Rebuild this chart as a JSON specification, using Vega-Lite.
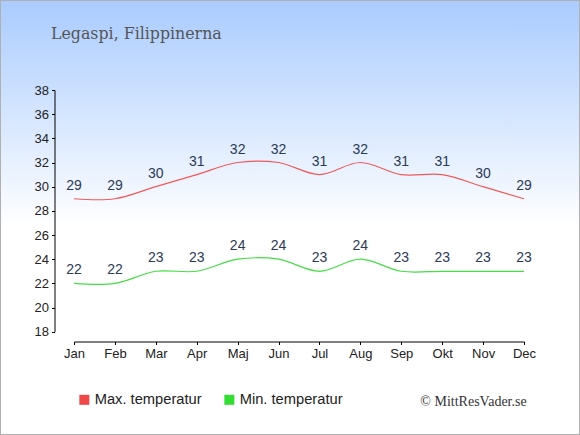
{
  "$schema": "https://vega.github.io/schema/vega-lite/v6.json",
  "width": 580,
  "height": 435,
  "autosize": "none",
  "padding": 0,
  "background": "white",
  "view": {
    "fill": {
      "gradient": "linear",
      "x1": 0, "y1": 0, "x2": 0, "y2": 1,
      "stops": [
        {"offset": 0, "color": "#a9cbff"},
        {"offset": 0.52, "color": "#ffffff"},
        {"offset": 1, "color": "#ffffff"}
      ]
    },
    "stroke": "#b0b0b0",
    "strokeWidth": 2
  },
  "title": {
    "text": "Legaspi, Filippinerna",
    "anchor": "start",
    "frame": "group",
    "orient": "top",
    "offset": -54.3,
    "dx": 51,
    "baseline": "alphabetic",
    "font": "DejaVu Serif",
    "fontSize": 15.8,
    "fontWeight": "normal",
    "color": "#555555"
  },
  "data": {
    "values": [
      {"month": "Jan", "series": "Max. temperatur", "temp": 29},
      {"month": "Feb", "series": "Max. temperatur", "temp": 29},
      {"month": "Mar", "series": "Max. temperatur", "temp": 30},
      {"month": "Apr", "series": "Max. temperatur", "temp": 31},
      {"month": "Maj", "series": "Max. temperatur", "temp": 32},
      {"month": "Jun", "series": "Max. temperatur", "temp": 32},
      {"month": "Jul", "series": "Max. temperatur", "temp": 31},
      {"month": "Aug", "series": "Max. temperatur", "temp": 32},
      {"month": "Sep", "series": "Max. temperatur", "temp": 31},
      {"month": "Okt", "series": "Max. temperatur", "temp": 31},
      {"month": "Nov", "series": "Max. temperatur", "temp": 30},
      {"month": "Dec", "series": "Max. temperatur", "temp": 29},
      {"month": "Jan", "series": "Min. temperatur", "temp": 22},
      {"month": "Feb", "series": "Min. temperatur", "temp": 22},
      {"month": "Mar", "series": "Min. temperatur", "temp": 23},
      {"month": "Apr", "series": "Min. temperatur", "temp": 23},
      {"month": "Maj", "series": "Min. temperatur", "temp": 24},
      {"month": "Jun", "series": "Min. temperatur", "temp": 24},
      {"month": "Jul", "series": "Min. temperatur", "temp": 23},
      {"month": "Aug", "series": "Min. temperatur", "temp": 24},
      {"month": "Sep", "series": "Min. temperatur", "temp": 23},
      {"month": "Okt", "series": "Min. temperatur", "temp": 23},
      {"month": "Nov", "series": "Min. temperatur", "temp": 23},
      {"month": "Dec", "series": "Min. temperatur", "temp": 23}
    ]
  },
  "encoding": {
    "x": {
      "field": "month",
      "type": "ordinal",
      "sort": ["Jan", "Feb", "Mar", "Apr", "Maj", "Jun", "Jul", "Aug", "Sep", "Okt", "Nov", "Dec"],
      "scale": {"type": "point", "range": [74, 524], "padding": 0},
      "axis": {
        "orient": "bottom",
        "offset": -93.5,
        "labelAngle": 0,
        "tickSize": 3,
        "labelPadding": 3,
        "labelFont": "Liberation Sans",
        "labelFontSize": 13,
        "labelColor": "#222222",
        "domainColor": "#000000",
        "tickColor": "#000000",
        "grid": false,
        "title": "© MittResVader.se",
        "titleX": 473,
        "titleY": 60,
        "titleAlign": "center",
        "titleBaseline": "middle",
        "titleFont": "Liberation Serif",
        "titleFontSize": 14,
        "titleFontWeight": "normal",
        "titleColor": "#333333"
      }
    },
    "y": {
      "field": "temp",
      "type": "quantitative",
      "scale": {"domain": [18, 38], "range": [331.7, 90], "nice": false, "zero": false},
      "axis": {
        "orient": "left",
        "offset": -54.5,
        "values": [18, 20, 22, 24, 26, 28, 30, 32, 34, 36, 38],
        "tickSize": 3,
        "labelPadding": 3,
        "labelFont": "Liberation Sans",
        "labelFontSize": 13,
        "labelColor": "#222222",
        "domainColor": "#000000",
        "tickColor": "#000000",
        "grid": false,
        "title": null
      }
    }
  },
  "layer": [
    {
      "mark": {"type": "line", "interpolate": "catmull-rom", "strokeWidth": 1.2},
      "encoding": {
        "stroke": {
          "field": "series",
          "type": "nominal",
          "scale": {"domain": ["Min. temperatur", "Max. temperatur"], "range": ["#44dd44", "#f05a5a"]},
          "legend": null
        }
      }
    },
    {
      "mark": {"type": "point", "shape": "square", "filled": true, "size": 0},
      "encoding": {
        "color": {
          "field": "series",
          "type": "nominal",
          "scale": {"domain": ["Max. temperatur", "Min. temperatur"], "range": ["#f04848", "#33dd33"]},
          "legend": {
            "orient": "none",
            "legendX": 77,
            "legendY": 392,
            "direction": "horizontal",
            "title": null,
            "symbolType": "square",
            "symbolSize": 100,
            "symbolStrokeWidth": 0,
            "symbolOpacity": 1,
            "labelFont": "Liberation Sans",
            "labelFontSize": 14.7,
            "labelColor": "#222222",
            "labelOffset": 3,
            "columnPadding": 20,
            "labelLimit": 200
          }
        }
      }
    },
    {
      "mark": {"type": "text", "dy": -9, "baseline": "alphabetic", "align": "center", "font": "Liberation Sans", "fontSize": 14, "color": "#2b3a56"},
      "encoding": {
        "text": {"field": "temp", "type": "quantitative"},
        "detail": {"field": "series", "type": "nominal"}
      }
    }
  ]
}
